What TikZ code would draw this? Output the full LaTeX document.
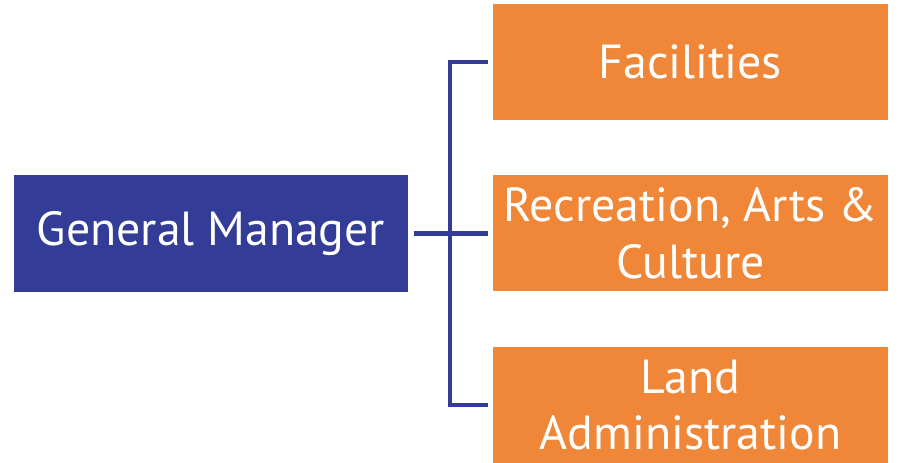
\documentclass[tikz,border=0pt]{standalone}
\usepackage{fontspec}
\setmainfont{PT Sans}
\definecolor{gmblue}{RGB}{51,60,151}
\definecolor{deptorange}{RGB}{240,134,55}
\begin{document}
\begin{tikzpicture}[x=1bp,y=-1bp,
  box/.style={inner sep=0pt, outer sep=0pt, text=white, align=center,
    font=\fontsize{48}{57}\selectfont},
  gmbox/.style={box, fill=gmblue, minimum width=394bp, minimum height=117bp},
  dept/.style={box, fill=deptorange, minimum width=395bp, minimum height=116bp},
  conn/.style={draw=gmblue, line width=4.5bp, line join=miter}]
\useasboundingbox (0,0) rectangle (898,463);
\clip (0,0) rectangle (898,463);
\node[gmbox] (gm) at (211,233.5) {General Manager};
\node[dept] (fac) at (690.5,62) {Facilities};
\node[dept] (rac) at (690.5,233.5) {Recreation, Arts \&\\Culture};
\node[dept] (land) at (690.5,405) {Land\\Administration};
\coordinate (spine) at (450,234);
\draw[conn, shorten <=5bp] (fac.west) -| (spine);
\draw[conn, shorten <=5bp] (land.west) -| (spine);
\draw[conn, shorten <=6bp, shorten >=5bp] (gm.east) -- (rac.west);
\end{tikzpicture}
\end{document}
